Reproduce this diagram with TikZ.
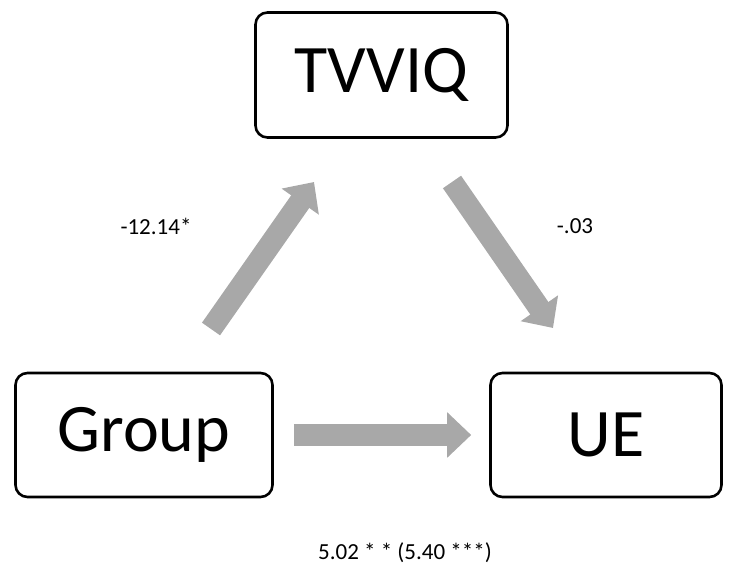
\documentclass[tikz,border=0pt]{standalone}
\usepackage{fontspec}
\setmainfont{Carlito}
\usetikzlibrary{arrows.meta}
\definecolor{arrgray}{RGB}{168,168,168}
\tikzset{
  box/.style={draw=black, line width=2.6pt, rounded corners=12pt, fill=white, inner sep=0pt, font=\fontsize{68}{74}\selectfont},
  fatarrow/.style={draw=arrgray, line width=22pt, -{Triangle[width=44pt,length=24pt]}},
  lbl/.style={font=\fontsize{23}{26}\selectfont, inner sep=0pt}
}
\begin{document}
\begin{tikzpicture}[x=1pt,y=1pt]
\useasboundingbox (0,0) rectangle (736,572);
\node[box, minimum width=252pt, minimum height=125pt] (tv) at (381.5,497) {TVVIQ};
\node[box, minimum width=257pt, minimum height=124pt] (gr) at (144,137) {Group};
\node[box, minimum width=231pt, minimum height=124pt] (ue) at (606,137) {UE};
\coordinate (a1s) at (211,243);
\coordinate (a1e) at (314,390);
\coordinate (a2s) at (452,390);
\coordinate (a2e) at (553,244);
\draw[fatarrow] (a1s) -- (a1e);
\draw[fatarrow] (a2s) -- (a2e);
\draw[fatarrow, shorten <=20pt, shorten >=18pt] (gr) -- (ue);
\node[lbl] (l1) at (156,346) {-12.14*};
\node[lbl] (l2) at (575,346) {-.03};
\node[lbl] (l3) at (405,19) {5.02 * * (5.40 ***)};
\end{tikzpicture}
\end{document}
